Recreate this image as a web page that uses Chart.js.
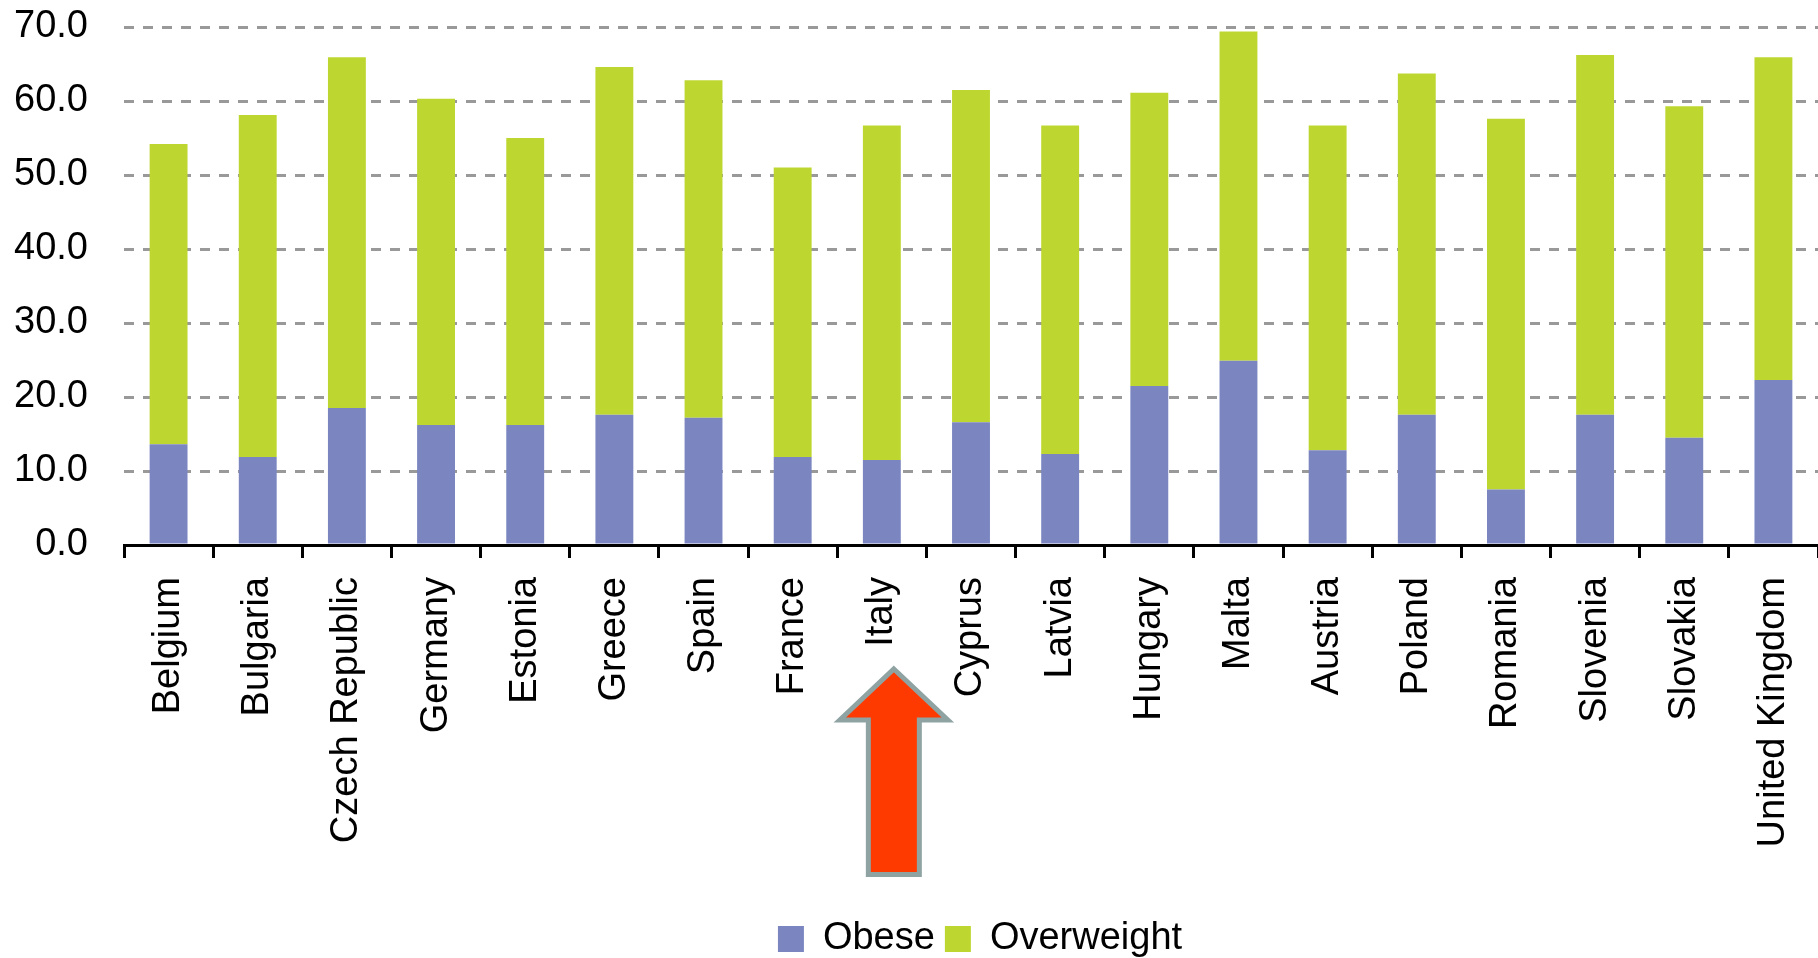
<!DOCTYPE html>
<html>
<head>
<meta charset="utf-8">
<script src="https://cdn.jsdelivr.net/npm/chart.js@4/dist/chart.umd.min.js"></script>
<style>
  html, body { margin: 0; padding: 0; background: #ffffff; overflow: hidden; }
  #wrap { position: relative; width: 1818px; height: 968px; }
</style>
</head>
<body>
<div id="wrap"><canvas id="chart"></canvas></div>
<script>
// Share of adults (%) by country
const countries = [
  'Belgium', 'Bulgaria', 'Czech Republic', 'Germany', 'Estonia', 'Greece',
  'Spain', 'France', 'Italy', 'Cyprus', 'Latvia', 'Hungary', 'Malta',
  'Austria', 'Poland', 'Romania', 'Slovenia', 'Slovakia', 'United Kingdom'
];
const obese = [
  13.6, 11.9, 18.5, 16.2, 16.2, 17.6, 17.2, 11.9, 11.5, 16.6,
  12.3, 21.5, 24.9, 12.8, 17.6, 7.5, 17.6, 14.5, 22.3
];
const overweight = [
  40.6, 46.2, 47.4, 44.1, 38.8, 47.0, 45.6, 39.1, 45.2, 44.9,
  44.4, 39.6, 44.5, 43.9, 46.1, 50.1, 48.6, 44.8, 43.6
];
const seriesNames = ['Obese', 'Overweight'];
const yMin = 0, yMax = 70, yStep = 10;
const highlighted = 'Italy';

const FONT = '"Liberation Sans", Arial, sans-serif';

// Up arrow pointing at the highlighted country label
const arrowPlugin = {
  id: 'highlightArrow',
  afterDraw(chart) {
    const xs = chart.scales.x;
    const idx = countries.indexOf(highlighted);
    if (idx < 0) return;
    const cx = xs.getPixelForValue(idx) + 12;
    const base = chart.chartArea.bottom;
    const ctx = chart.ctx;
    ctx.save();
    ctx.beginPath();
    ctx.moveTo(cx, base + 124);
    ctx.lineTo(cx + 54, base + 175);
    ctx.lineTo(cx + 25.5, base + 175);
    ctx.lineTo(cx + 25.5, base + 329.5);
    ctx.lineTo(cx - 25.5, base + 329.5);
    ctx.lineTo(cx - 25.5, base + 175);
    ctx.lineTo(cx - 54, base + 175);
    ctx.closePath();
    ctx.fillStyle = '#ff3a00';
    ctx.fill();
    ctx.lineWidth = 5;
    ctx.lineJoin = 'miter';
    ctx.strokeStyle = '#8fa3a3';
    ctx.stroke();
    ctx.restore();
  }
};

// Nudge the legend a little to the right of the plot centre
const legendShift = {
  id: 'legendShift',
  afterLayout(chart) {
    const lg = chart.legend;
    if (!lg) return;
    lg.left += 9;
    lg.right += 9;
  }
};

new Chart(document.getElementById('chart'), {
  type: 'bar',
  data: {
    labels: countries,
    datasets: [
      {
        label: seriesNames[0],
        data: obese,
        backgroundColor: '#7b86c1',
        borderWidth: 0
      },
      {
        label: seriesNames[1],
        data: overweight,
        backgroundColor: '#bed730',
        borderWidth: 0
      }
    ]
  },
  options: {
    responsive: true,
    maintainAspectRatio: false,
    animation: false,
    datasets: {
      bar: { barPercentage: 0.425, categoryPercentage: 1.0 }
    },
    layout: { padding: { top: 27, left: 0, right: 0, bottom: 0 } },
    plugins: {
      legend: {
        position: 'bottom',
        fullSize: false,
        labels: {
          font: { family: FONT, size: 38 },
          color: '#000000',
          boxWidth: 26,
          boxHeight: 26,
          padding: 10
        }
      },
      tooltip: { enabled: false }
    },
    scales: {
      x: {
        stacked: true,
        grid: {
          drawOnChartArea: false,
          drawTicks: true,
          tickLength: 13,
          color: '#000000',
          lineWidth: 3
        },
        border: { display: true, color: '#000000', width: 3 },
        ticks: {
          autoSkip: false,
          minRotation: 90,
          maxRotation: 90,
          padding: 19,
          color: '#000000',
          font: { family: FONT, size: 38 }
        },
        afterFit(scale) {
          scale.height = 365;
          scale.paddingLeft = 0;
          scale.paddingRight = 0;
        }
      },
      y: {
        stacked: true,
        min: yMin,
        max: yMax,
        grid: {
          drawTicks: false,
          color: '#999999',
          lineWidth: 3
        },
        border: { display: false, dash: [10, 9] },
        ticks: {
          stepSize: yStep,
          padding: 36,
          color: '#000000',
          font: { family: FONT, size: 38 },
          callback: v => Number(v).toFixed(1)
        },
        afterFit(scale) {
          scale.width = 124;
          scale.paddingTop = 0;
          scale.paddingBottom = 0;
        }
      }
    }
  },
  plugins: [arrowPlugin, legendShift]
});
</script>
</body>
</html>
